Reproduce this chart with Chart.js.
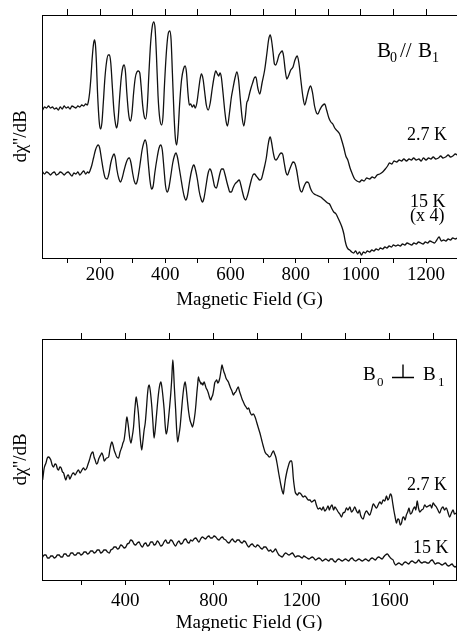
<!DOCTYPE html>
<html>
<head>
<meta charset="utf-8">
<script src="https://cdn.jsdelivr.net/npm/chart.js"></script>
<style>
  html, body { margin: 0; padding: 0; background: #fff; overflow: hidden; }
  #top-panel { position: absolute; left: 0; top: 0; width: 457px; height: 310px; }
  #bottom-panel { position: absolute; left: 0; top: 320px; width: 457px; height: 313px; }
</style>
</head>
<body>
<div id="top-panel"><canvas id="top-chart"></canvas></div>
<div id="bottom-panel"><canvas id="bottom-chart"></canvas></div>
<script>
'use strict';
// ***** DATA (field in G, signal in arbitrary units) *****

// B0 // B1, 2.7 K
let parallelCold = [[24,148],[30,151],[36,150],[42,152],[48,150],[54,151],[60,149],[66,150],[72,148],[78,151],[84,149],[90,152],[96,150],[102,151],[108,149],[114,152],[120,151],[126,150],[132,152],[138,151],[144,153],[150,152],[156,154],[161,153],
  [164,156],[168,165],[172,180],[176,200],[180,214],[183,218],[186,213],[189,195],[192,168],[196,143],[199,132],[202,129],[206,136],[210,155],[215,180],[220,196],[225,203],[229,203],[233,195],[238,170],[243,146],[248,133],[251,130],[255,137],[260,160],[265,180],[270,191],[274,193],[278,186],[282,166],[287,146],[291,138],[294,137],[298,145],[303,165],[308,180],[313,186],[318,187],[322,185],[326,172],[331,152],[336,141],[340,139],[345,152],[350,185],[355,214],[360,231],[365,236],[369,229],[373,203],[378,162],[383,140],[389,133],[393,141],[398,175],[404,208],[409,224],[414,227],[418,218],[422,185],[427,143],[431,120],[435,113],[439,124],[444,153],[450,178],[456,189],[461,192],[465,186],[470,164],[474,153],[478,154],[483,151],[488,153],[492,150],[497,155],[502,167],[507,179],[511,184],[516,179],[521,166],[526,153],[532,148],[538,155],[544,169],[550,181],[555,187],[560,184],[564,182],[568,185],[572,181],[577,166],[583,146],[587,136],[591,132],[597,145],[603,161],[608,170],[614,180],[620,186],[625,178],[630,160],[636,140],[641,132],[646,142],[650,155],[654,158],[659,165],[664,171],[669,176],[673,180],[678,181],[684,170],[690,164],[697,175],[705,188],[712,205],[717,218],[722,223],[726,218],[731,205],[735,194],[739,193],[744,197],[749,203],[755,206],[759,207],[763,202],[768,188],[773,179],[778,182],[785,188],[792,191],[798,198],[805,202],[810,195],[816,178],[822,162],[828,153],[834,160],[840,168],[846,172],[852,165],[858,152],[864,145],[868,144],[874,148],[881,152],[889,154],[895,148],[902,140],[908,136],[914,134],[920,130],[928,127],[935,124],[942,117],[948,110],[954,102],[960,98],[967,90],[974,84],[981,79],[988,77],[996,76],[1003,78],[1010,77],[1018,80],[1027,79],[1035,81],[1042,80],[1050,83],[1058,84],[1067,86],[1075,89],[1082,92],[1088,95],[1095,94],[1102,97],[1110,96],[1118,98],[1125,97],[1132,99],[1140,97],[1148,99],[1155,98],[1162,100],[1170,98],[1178,99],[1185,97],[1192,100],[1200,98],[1208,100],[1215,99],[1222,101],[1230,99],[1238,100],[1245,102],[1252,100],[1260,101],[1268,103],[1275,101],[1282,102],[1290,104],[1296,103]];

// B0 // B1, 15 K (x 4)
let parallelWarm = [[24,86],[30,84],[36,86],[42,85],[48,83],[54,85],[60,86],[66,83],[72,84],[78,86],[84,85],[90,83],[96,85],[102,86],[108,84],[114,82],[120,85],[126,84],[132,86],[138,83],[144,85],[150,87],[156,84],[162,86],[166,85],
  [170,88],[175,93],[180,100],[186,108],[191,112],[195,113],[199,110],[204,100],[210,88],[216,80],[222,79],[227,84],[233,95],[238,101],[243,104],[247,100],[252,88],[258,79],[263,76],[268,80],[274,88],[280,95],[285,99],[290,100],[295,95],[300,85],[305,77],[310,74],[315,78],[322,92],[329,108],[334,115],[338,118],[343,113],[348,95],[353,78],[358,69],[363,72],[368,85],[375,100],[381,110],[386,113],[391,108],[396,90],[401,72],[406,66],[411,70],[417,82],[423,95],[428,102],[433,105],[438,100],[443,90],[448,80],[453,70],[458,62],[463,58],[468,62],[474,75],[480,86],[485,92],[488,93],[493,88],[499,78],[504,67],[509,60],[514,56],[519,60],[525,72],[531,84],[537,89],[541,87],[546,80],[551,72],[557,70],[562,76],[568,85],[573,89],[578,89],[583,84],[589,76],[594,70],[598,66],[603,66],[608,70],[614,74],[620,76],[627,78],[632,73],[637,66],[642,60],[647,58],[652,62],[658,70],[664,78],[669,83],[674,84],[679,82],[684,80],[690,78],[695,79],[700,85],[705,92],[710,100],[715,112],[719,119],[722,121],[726,116],[731,106],[736,99],[740,98],[745,100],[750,103],[755,105],[760,104],[765,95],[770,86],[775,83],[781,88],[787,93],[792,96],[797,95],[803,88],[809,76],[814,68],[819,66],[824,70],[829,74],[834,76],[840,75],[845,70],[851,66],[857,64],[863,63],[870,62],[877,61],[884,59],[891,57],[898,55],[904,54],[910,50],[917,46],[924,44],[930,40],[937,35],[943,30],[948,24],[952,17],[956,12],[961,9],[966,8],[972,6],[978,5],[984,7],[990,4],[996,6],[1002,3],[1008,6],[1014,5],[1020,7],[1027,6],[1034,8],[1040,7],[1047,9],[1054,8],[1060,10],[1067,9],[1074,11],[1080,10],[1087,12],[1094,11],[1100,13],[1107,12],[1114,13],[1121,12],[1128,14],[1135,13],[1142,15],[1149,14],[1156,13],[1163,15],[1170,14],[1177,16],[1184,15],[1191,14],[1198,16],[1205,15],[1212,17],[1219,16],[1226,15],[1233,18],[1240,21],[1247,17],[1254,18],[1261,17],[1268,19],[1275,18],[1282,20],[1290,19],[1296,20]];

// B0 perpendicular B1, 2.7 K
let perpCold = [[26,100],[33,112],[41,117],[47,122],[53,123],[58,122],[63,120],[69,115],[75,113],[82,116],[88,115],[93,111],[98,110],[104,113],[110,112],[116,108],[121,107],[126,103],[131,100],[137,104],[143,105],[149,101],[154,103],[160,106],[166,107],[173,105],[181,108],[188,110],[196,107],[204,110],[211,112],[218,110],[226,112],[232,116],[238,120],[246,126],[254,128],[259,123],[264,120],[270,116],[275,117],[280,121],[284,123],[289,125],[294,127],[300,124],[305,119],[309,120],[316,122],[325,123],[331,131],[336,136],[340,138],[345,135],[350,130],[355,127],[362,123],[370,122],[377,128],[385,133],[390,137],[395,140],[401,150],[405,159],[408,163],[412,158],[415,153],[420,143],[426,137],[431,142],[438,153],[443,168],[447,178],[450,183],[454,178],[460,167],[464,155],[468,143],[475,130],[480,138],[486,150],[491,157],[496,170],[501,185],[505,193],[509,195],[514,189],[521,173],[526,157],[531,142],[537,152],[543,167],[550,184],[556,194],[562,198],[567,192],[572,182],[577,170],[581,156],[586,146],[591,150],[596,160],[602,174],[607,187],[611,200],[616,220],[619,212],[623,193],[629,170],[633,152],[638,138],[643,144],[649,153],[655,168],[661,183],[667,194],[672,198],[677,191],[682,180],[688,168],[694,160],[700,156],[705,153],[711,158],[717,167],[721,176],[725,187],[729,196],[732,203],[736,200],[740,198],[744,196],[747,197],[752,195],[758,198],[763,195],[767,192],[772,190],[777,187],[782,183],[788,180],[793,183],[797,185],[802,191],[806,197],[811,199],[815,200],[820,197],[824,198],[828,201],[830,203],[835,210],[839,215],[843,212],[848,208],[853,205],[857,202],[862,200],[868,198],[873,195],[878,192],[884,189],[891,185],[896,187],[901,188],[907,191],[913,193],[918,189],[924,185],[930,181],[936,178],[942,175],[948,173],[954,171],[960,172],[966,168],[974,165],[981,166],[989,163],[996,158],[1004,152],[1011,147],[1019,140],[1026,134],[1034,128],[1040,126],[1046,125],[1053,123],[1060,124],[1066,127],[1072,129],[1078,126],[1084,122],[1090,115],[1096,107],[1101,101],[1106,95],[1112,89],[1117,86],[1121,92],[1126,100],[1131,106],[1135,110],[1140,114],[1144,117],[1150,119],[1155,119],[1159,112],[1162,103],[1166,95],[1171,88],[1176,86],[1182,85],[1187,87],[1192,87],[1200,85],[1207,83],[1215,84],[1223,82],[1230,80],[1238,80],[1245,78],[1252,79],[1260,80],[1267,75],[1275,71],[1283,72],[1291,70],[1298,73],[1305,69],[1313,71],[1320,74],[1326,70],[1331,73],[1338,75],[1345,70],[1351,73],[1358,71],[1366,68],[1373,66],[1381,63],[1388,67],[1396,68],[1403,72],[1410,70],[1419,73],[1426,68],[1434,70],[1441,73],[1449,69],[1456,67],[1462,70],[1467,65],[1473,62],[1479,61],[1486,66],[1494,69],[1501,67],[1509,65],[1517,70],[1525,76],[1532,74],[1540,72],[1547,75],[1555,78],[1562,76],[1570,80],[1577,79],[1585,84],[1591,80],[1597,82],[1602,86],[1608,84],[1613,77],[1618,70],[1624,63],[1630,57],[1636,61],[1642,60],[1647,55],[1653,57],[1658,62],[1663,63],[1669,60],[1675,65],[1681,68],[1687,72],[1693,66],[1699,67],[1706,71],[1713,73],[1718,70],[1724,79],[1730,72],[1736,68],[1744,70],[1751,71],[1758,75],[1766,73],[1775,74],[1784,75],[1790,72],[1796,77],[1803,75],[1811,73],[1818,70],[1826,67],[1833,71],[1841,73],[1848,70],[1856,72],[1863,68],[1871,63],[1879,67],[1887,70],[1893,66],[1900,67]];

// B0 perpendicular B1, 15 K
let perpWarm = [[26,23],[33,25],[41,25],[48,22],[56,22],[63,24],[71,24],[78,22],[86,23],[93,25],[101,25],[108,23],[116,23],[123,26],[131,26],[138,24],[146,24],[154,27],[162,27],[169,25],[177,25],[184,27],[192,27],[199,25],[207,26],[214,28],[222,28],[229,26],[237,27],[244,29],[252,29],[259,27],[267,28],[274,30],[282,30],[289,27],[297,28],[304,30],[312,30],[320,28],[328,27],[335,30],[343,31],[350,33],[358,33],[365,31],[373,32],[380,35],[388,34],[395,32],[403,33],[410,36],[418,37],[425,40],[433,39],[440,36],[448,35],[455,37],[463,38],[470,35],[478,33],[486,36],[494,37],[501,34],[509,35],[516,38],[524,38],[531,35],[539,36],[546,39],[554,37],[561,34],[569,35],[576,38],[584,40],[591,37],[599,37],[606,40],[614,39],[621,36],[629,34],[636,37],[644,39],[652,36],[660,37],[667,40],[675,41],[682,38],[690,37],[697,40],[705,39],[712,41],[720,42],[727,40],[735,38],[742,41],[750,43],[757,42],[765,41],[772,43],[780,44],[787,42],[795,42],[803,44],[811,43],[818,41],[826,40],[833,42],[841,43],[848,41],[856,40],[863,38],[871,37],[878,39],[886,41],[893,39],[901,38],[908,40],[916,40],[923,38],[931,37],[938,39],[946,38],[953,35],[961,33],[968,35],[976,36],[984,34],[992,33],[999,35],[1007,34],[1014,32],[1022,31],[1029,33],[1037,33],[1044,31],[1052,29],[1059,30],[1067,28],[1074,29],[1082,31],[1089,28],[1097,25],[1104,24],[1112,23],[1119,25],[1127,27],[1135,26],[1143,25],[1150,26],[1158,27],[1165,25],[1173,23],[1180,24],[1188,24],[1195,23],[1203,22],[1210,24],[1218,23],[1225,22],[1233,21],[1240,22],[1248,23],[1255,22],[1263,20],[1270,21],[1278,22],[1286,21],[1294,19],[1301,20],[1309,21],[1316,20],[1324,19],[1331,21],[1339,21],[1346,19],[1354,18],[1361,20],[1369,21],[1376,20],[1384,19],[1391,20],[1399,21],[1406,20],[1414,19],[1421,21],[1429,22],[1437,20],[1445,19],[1452,20],[1460,21],[1467,20],[1475,19],[1482,20],[1490,21],[1497,20],[1505,19],[1512,21],[1520,22],[1527,21],[1535,20],[1542,22],[1550,23],[1557,22],[1565,21],[1572,23],[1580,25],[1589,26],[1596,24],[1603,22],[1609,21],[1615,20],[1620,17],[1626,15],[1633,16],[1641,17],[1648,16],[1656,15],[1663,17],[1671,18],[1678,17],[1686,16],[1693,18],[1701,19],[1708,18],[1716,17],[1723,18],[1731,20],[1738,18],[1746,17],[1754,18],[1762,18],[1769,17],[1777,17],[1784,19],[1792,20],[1799,18],[1807,16],[1814,17],[1822,17],[1829,16],[1837,15],[1844,16],[1852,17],[1859,15],[1867,14],[1874,15],[1882,16],[1889,14],[1897,13],[1900,14]];

// ***** AXES *****
let topTicks = [100, 200, 300, 400, 500, 600, 700, 800, 900, 1000, 1100, 1200];
let topLabelStep = 200;
let bottomTicks = [200, 400, 600, 800, 1000, 1200, 1400, 1600, 1800];
let bottomLabelStep = 400;

const serif = '"Liberation Serif", "Times New Roman", serif';
Chart.defaults.font.family = serif;
Chart.defaults.color = '#000';

// Turn [field, signal] pairs into chart points
function toPoints(pairs) {
  return pairs.map(p => ({ x: p[0], y: p[1] }));
}

function lineDataset(pairs) {
  return {
    data: toPoints(pairs),
    borderColor: '#111',
    borderWidth: 1.3,
    pointRadius: 0,
    cubicInterpolationMode: 'monotone',
    fill: false
  };
}

// Hidden-label axis that only draws its edge line
function edgeAxis(position, size) {
  return {
    position: position,
    display: true,
    afterFit: (s) => { if (s.isHorizontal()) { s.height = size; } else { s.width = size; } },
    ticks: { display: false },
    grid: { display: true, drawOnChartArea: false, drawTicks: false },
    border: { display: true, color: '#000', width: 1 }
  };
}

function buildChart(canvasId, p) {
  let setTicks = (s) => { s.ticks = p.ticks.map(v => ({ value: v })); };

  let xBottom = {
    type: 'linear', position: 'bottom', min: p.xMin, max: p.xMax,
    afterBuildTicks: setTicks,
    afterFit: (s) => { s.height = p.bottomHeight; },
    ticks: {
      autoSkip: false, maxRotation: 0, padding: p.labelPad,
      font: { size: 19, lineHeight: 1 },
      callback: (v) => (v % p.labelStep === 0 ? v : '')
    },
    grid: { display: true, drawOnChartArea: false, drawTicks: true, tickLength: 5, color: '#000' },
    border: { display: true, color: '#000', width: 1 },
    title: { display: true, text: 'Magnetic Field (G)', font: { size: 19, lineHeight: 1 }, padding: { top: 0, bottom: 0 } }
  };

  let xTop = {
    type: 'linear', position: 'top', min: p.xMin, max: p.xMax,
    afterBuildTicks: setTicks,
    afterFit: (s) => { s.height = p.topHeight; },
    ticks: { display: false },
    grid: { display: true, drawOnChartArea: false, drawTicks: true, tickLength: 6, color: '#000' },
    border: { display: true, color: '#000', width: 1 }
  };

  let yLeft = edgeAxis('left', 42);
  yLeft.min = 0;
  yLeft.max = p.yMax;
  yLeft.title = { display: true, text: 'd\u03c7\'\'/dB', font: { size: 19, lineHeight: 1 }, padding: { top: 12, bottom: 0 } };

  let scales = { x: xBottom, x2: xTop, y: yLeft };
  if (p.rightBorder) {
    scales.y2 = edgeAxis('right', 1);
  }

  // Panel annotations (field orientation and temperatures)
  let annotations = {
    id: 'annotations',
    afterDraw(chart) {
      let ctx = chart.ctx;
      ctx.save();
      ctx.fillStyle = '#000';
      ctx.strokeStyle = '#000';
      ctx.textBaseline = 'alphabetic';
      p.texts.forEach(t => {
        ctx.font = t[3] + 'px ' + serif;
        ctx.fillText(t[0], t[1], t[2]);
      });
      if (p.perp) {
        ctx.lineWidth = 1.4;
        ctx.beginPath();
        ctx.moveTo(p.perp[0], p.perp[2]);
        ctx.lineTo(p.perp[1], p.perp[2]);
        ctx.moveTo((p.perp[0] + p.perp[1]) / 2, p.perp[2] - 13);
        ctx.lineTo((p.perp[0] + p.perp[1]) / 2, p.perp[2]);
        ctx.stroke();
      }
      ctx.restore();
    }
  };

  return new Chart(document.getElementById(canvasId), {
    type: 'line',
    data: { datasets: p.series.map(lineDataset) },
    options: {
      responsive: true,
      maintainAspectRatio: false,
      animation: false,
      layout: { padding: 0 },
      plugins: { legend: { display: false }, tooltip: { enabled: false } },
      scales: scales
    },
    plugins: [annotations]
  });
}

buildChart('top-chart', {
  series: [parallelCold, parallelWarm],
  xMin: 22, xMax: 1295, yMax: 243,
  ticks: topTicks, labelStep: topLabelStep,
  topHeight: 15, bottomHeight: 52, labelPad: 3,
  rightBorder: false,
  texts: [['B', 377, 57, 21], ['0', 390, 62, 14], ['//', 400, 57, 21], ['B', 418, 57, 21], ['1', 432, 62, 14],
    ['2.7 K', 407, 140, 18], ['15 K', 410, 207, 18], ['(x 4)', 410, 221, 18]]
});

buildChart('bottom-chart', {
  series: [perpCold, perpWarm],
  xMin: 23, xMax: 1900, yMax: 241,
  ticks: bottomTicks, labelStep: bottomLabelStep,
  topHeight: 19, bottomHeight: 53, labelPad: 7,
  rightBorder: true,
  texts: [['B', 363, 60, 19], ['0', 377, 66, 13], ['B', 423, 60, 19], ['1', 438, 66, 13],
    ['2.7 K', 407, 170, 18], ['15 K', 413, 233, 18]],
  perp: [392, 414, 57.5]
});
</script>
</body>
</html>
